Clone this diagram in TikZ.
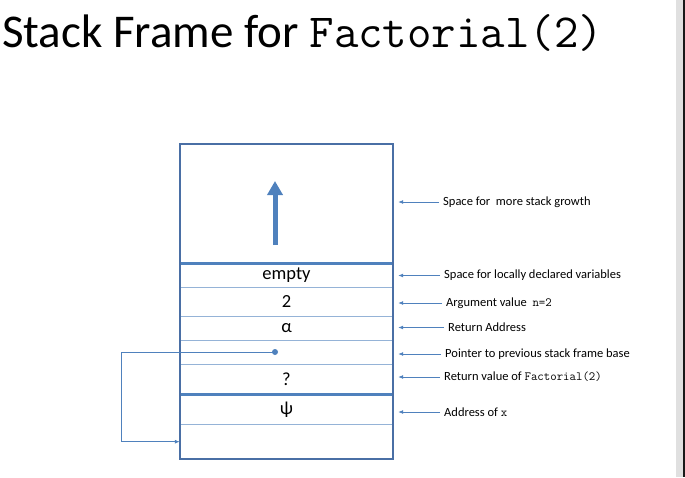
\documentclass[tikz,border=0pt]{standalone}
\usepackage{fontspec}
\setmainfont{Carlito}
\usetikzlibrary{arrows.meta,positioning}

\definecolor{frameblue}{RGB}{74,111,165}
\definecolor{rowblue}{RGB}{79,129,189}
\definecolor{thinblue}{RGB}{149,179,215}

\tikzset{
  cell/.style={rectangle, draw=none, minimum width=213pt, inner sep=0pt,
    font=\fontsize{18.5}{21}\selectfont},
  note/.style={anchor=west, inner sep=2pt, font=\fontsize{12.5}{15}\selectfont},
  noteline/.style={draw=rowblue, line width=0.8pt, shorten <=2pt, shorten >=5pt,
    -{Latex[length=5pt,width=4pt]}},
  rowline/.style={draw=thinblue, line width=1.3pt},
  splitline/.style={draw=rowblue, line width=3pt},
}

\begin{document}
\begin{tikzpicture}[x=1pt, y=-1pt]
  \useasboundingbox (0,0) rectangle (685,477);

  % window edge
  \fill[black!12] (676,0) rectangle (683,477);
  \fill[black!90] (683,0) rectangle (685,477);

  % title
  \node[anchor=base west, inner sep=0pt] (title) at (2,47)
    {\fontsize{47}{50}\selectfont Stack Frame for \fontsize{47.5}{50}\selectfont\texttt{Factorial(2)}};

  % stack cells
  \node[cell, minimum height=119pt] (growth) at (286.5,203.5) {};
  \node[cell, minimum height=24pt] (empty) at (286.5,275) {empty};
  \node[cell, minimum height=29pt] (arg) at (286.5,301.5) {2};
  \node[cell, minimum height=24pt] (ret) at (286.5,328) {α};
  \node[cell, minimum height=24pt] (ptr) at (286.5,352) {};
  \node[cell, minimum height=30pt] (retval) at (286.5,379) {?};
  \node[cell, minimum height=30pt] (addr) at (286.5,409.5) {ψ};
  \node[cell, minimum height=35pt] (base) at (286.5,441.5) {};

  % row borders
  \draw[rowline] (empty.south west) -- (empty.south east);
  \draw[rowline] (arg.south west) -- (arg.south east);
  \draw[rowline] (ret.south west) -- (ret.south east);
  \draw[rowline] (ptr.south west) -- (ptr.south east);
  \draw[rowline] (addr.south west) -- (addr.south east);
  \draw[splitline] (growth.south west) -- (growth.south east);
  \draw[splitline] (retval.south west) -- (retval.south east);
  \draw[frameblue, line width=2pt] (growth.north west) rectangle (base.south east);

  % growth arrow
  \coordinate (up-start) at (275,245);
  \coordinate (up-end) at (275,181);
  \draw[rowblue, line width=5pt, -{Triangle[length=14pt,width=15pt]}] (up-start) -- (up-end);

  % pointer to previous frame
  \fill[rowblue] (275,352) circle (3pt) coordinate (dot);
  \coordinate (ptr-turn) at (121,441.7);
  \draw[rowblue, line width=0.8pt, -{Latex[length=5pt,width=4pt]}]
    (dot) -| (ptr-turn) -- (ptr-turn -| base.west);

  % notes on the right
  \node[note] (n-growth) at (441,202) {Space for\ \ more stack growth};
  \node[note] (n-empty) at (442,275.5) {Space for locally declared variables};
  \node[note] (n-arg) at (444,303) {Argument value \ \texttt{n=2}};
  \node[note] (n-ret) at (446,327.5) {Return Address};
  \node[note] (n-ptr) at (443,354) {Pointer to previous stack frame base};
  \node[note] (n-retval) at (442,377) {Return value of \texttt{Factorial(2)}};
  \node[note] (n-addr) at (442,412) {Address of \texttt{x}};

  \draw[noteline] (n-growth.west) -- (n-growth.west -| growth.east);
  \draw[noteline] (n-empty.west) -- (n-empty.west -| empty.east);
  \draw[noteline] (n-arg.west) -- (n-arg.west -| arg.east);
  \draw[noteline] (n-ret.west) -- (n-ret.west -| ret.east);
  \draw[noteline] (n-ptr.west) -- (n-ptr.west -| ptr.east);
  \draw[noteline] (n-retval.west) -- (n-retval.west -| retval.east);
  \draw[noteline] (n-addr.west) -- (n-addr.west -| addr.east);
\end{tikzpicture}
\end{document}
